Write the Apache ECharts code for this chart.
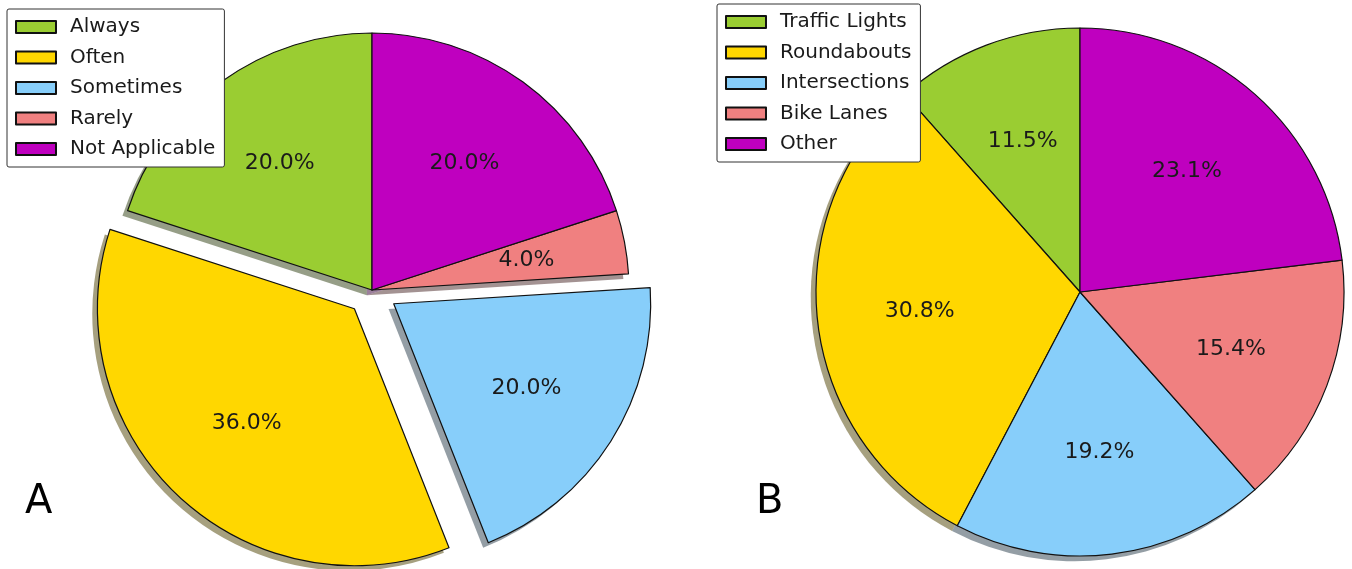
<!DOCTYPE html>
<html>
<head>
<meta charset="utf-8">
<script src="https://cdn.jsdelivr.net/npm/echarts@6/dist/echarts.min.js"></script>
<style>
  html, body { margin: 0; padding: 0; background: #fff; }
  #chart { width: 1352px; height: 569px; }
</style>
</head>
<body>
<div id="chart"></div>
<script>
// pie A: how often
const catsA = ['Always', 'Often', 'Sometimes', 'Rarely', 'Not Applicable'];
const valsA = [5, 9, 5, 1, 5];
const explodeA = [false, true, true, false, false];

// pie B: where
const catsB = ['Traffic Lights', 'Roundabouts', 'Intersections', 'Bike Lanes', 'Other'];
const valsB = [3, 8, 5, 4, 6];
const explodeB = [false, false, false, false, false];

const colors = ['#9ACD32', '#FFD700', '#87CEFA', '#F08080', '#BF00BF'];

const FONT = 'DejaVu Sans';

// matplotlib-like shadow: colour * 0.3 at half alpha
function shadowOf(hex) {
  const n = parseInt(hex.slice(1), 16);
  const r = Math.round(((n >> 16) & 255) * 0.3);
  const g = Math.round(((n >> 8) & 255) * 0.3);
  const b = Math.round((n & 255) * 0.3);
  return 'rgba(' + r + ',' + g + ',' + b + ',0.5)';
}

function makePie(cats, vals, explode, center, r) {
  const offset = r * 0.1;
  const common = {
    type: 'pie',
    startAngle: 90,
    clockwise: false,
    silent: true,
    selectedMode: 'multiple',
    selectedOffset: offset,
    avoidLabelOverlap: false,
    emphasis: { disabled: true },
    labelLine: { show: false },
  };

  const main = Object.assign({}, common, {
    z: 2,
    center: center,
    radius: [0, r],
    label: { show: false },
    data: cats.map((name, i) => ({
      name: name,
      value: vals[i],
      selected: explode[i],
      itemStyle: { color: colors[i], borderColor: '#111', borderWidth: 1.2 },
    })),
  });

  const shadow = Object.assign({}, common, {
    z: 1,
    center: [center[0] - r * 0.02, center[1] + r * 0.02],
    radius: [0, r],
    label: { show: false },
    data: cats.map((name, i) => ({
      name: name,
      value: vals[i],
      selected: explode[i],
      itemStyle: { color: shadowOf(colors[i]), borderWidth: 0 },
    })),
  });

  // transparent ring so the label sits at 0.6 r
  const labels = Object.assign({}, common, {
    z: 3,
    center: center,
    radius: [r * 0.2, r],
    label: {
      show: true,
      position: 'inside',
      fontFamily: FONT,
      fontSize: 22,
      color: '#1a1a1a',
      formatter: (p) => p.percent.toFixed(1) + '%',
    },
    data: cats.map((name, i) => ({
      name: name,
      value: vals[i],
      selected: explode[i],
      itemStyle: { color: 'rgba(0,0,0,0)', borderWidth: 0 },
    })),
  });

  return [main, shadow, labels];
}

function makeLegend(cats, left, top) {
  return {
    data: cats,
    orient: 'vertical',
    left: left,
    top: top,
    selectedMode: false,
    icon: 'rect',
    itemWidth: 40,
    itemHeight: 12,
    itemGap: 10.5,
    padding: [8, 9, 8, 8],
    backgroundColor: '#fff',
    borderColor: '#333',
    borderWidth: 1,
    borderRadius: 2,
    textStyle: {
      fontFamily: FONT,
      fontSize: 20,
      lineHeight: 20,
      color: '#1a1a1a',
      padding: [0, 0, 0, 9],
    },
  };
}

const chart = echarts.init(document.getElementById('chart'));

const option = {
  animation: false,
  backgroundColor: '#fff',
  legend: [
    makeLegend(catsA, 7, 9),
    makeLegend(catsB, 717, 4),
  ],
  series: [].concat(
    makePie(catsA, valsA, explodeA, [372, 290], 257),
    makePie(catsB, valsB, explodeB, [1080, 292], 264)
  ),
  graphic: [
    {
      type: 'text',
      left: 25,
      top: 483,
      style: { text: 'A', font: '40px "DejaVu Sans"', fill: '#000' },
    },
    {
      type: 'text',
      left: 756,
      top: 483,
      style: { text: 'B', font: '40px "DejaVu Sans"', fill: '#000' },
    },
  ],
};

chart.setOption(option);
</script>
</body>
</html>
